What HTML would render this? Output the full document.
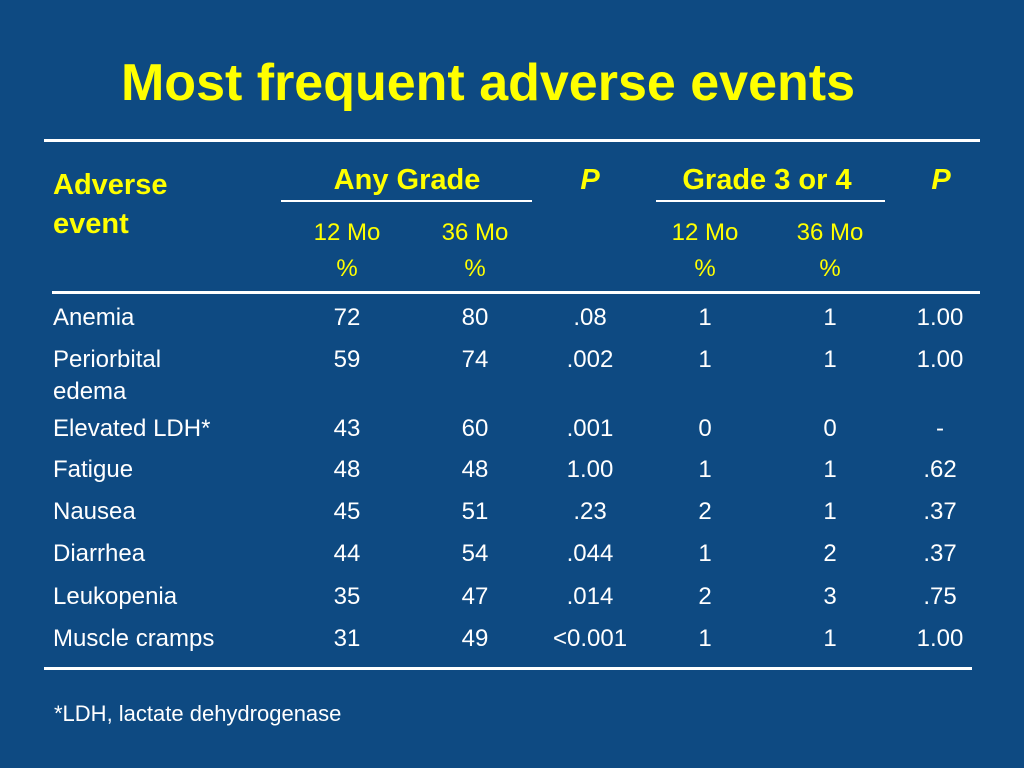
<!DOCTYPE html>
<html><head><meta charset="utf-8"><style>
body{margin:0;width:1024px;height:768px;background:#0e4a82;overflow:hidden;font-family:"Liberation Sans",Arial,sans-serif;position:relative}
.t{position:absolute;white-space:nowrap;line-height:1}
.c{transform:translateX(-50%)}
.y{color:#ffff00}
.w{color:#fff}
.rule{position:absolute;height:3px;background:#fff}
</style></head><body>
<div class="t y c" style="left:488px;top:57px;font-size:52px;font-weight:bold">Most frequent adverse events</div>
<div class="rule" style="left:44px;top:139px;width:936px"></div>
<div class="rule" style="left:52px;top:291px;width:928px"></div>
<div class="rule" style="left:44px;top:667px;width:928px"></div>
<div class="rule" style="left:281px;top:200px;width:251px;height:2px"></div>
<div class="rule" style="left:656px;top:200px;width:229px;height:2px"></div>
<div class="t y" style="left:53px;top:166px;font-size:29px;font-weight:bold;line-height:39px">Adverse<br>event</div>
<div class="t y c" style="left:407px;top:166px;font-size:29px;font-weight:bold">Any Grade</div>
<div class="t y c" style="left:590px;top:166px;font-size:29px;font-weight:bold;font-style:italic">P</div>
<div class="t y c" style="left:767px;top:166px;font-size:29px;font-weight:bold">Grade 3 or 4</div>
<div class="t y c" style="left:941px;top:166px;font-size:29px;font-weight:bold;font-style:italic">P</div>
<div id="sub"></div>
<div id="rows"></div>
<div class="t w" style="left:54px;top:703px;font-size:22px">*LDH, lactate dehydrogenase</div>
<script>
const cols=[347,475,590,705,830,940];
const names=["Anemia","Periorbital\nedema","Elevated LDH*","Fatigue","Nausea","Diarrhea","Leukopenia","Muscle cramps"];
const any12=["72","59","43","48","45","44","35","31"];
const any36=["80","74","60","48","51","54","47","49"];
const p1=[".08",".002",".001","1.00",".23",".044",".014","<0.001"];
const g12=["1","1","0","1","2","1","2","1"];
const g36=["1","1","0","1","1","2","3","1"];
const p2=["1.00","1.00","-",".62",".37",".37",".75","1.00"];
const rowTops=[306,348,417,458,500,542,585,627];
function mk(txt,x,y,cls,name,fs){
 const d=document.createElement('div');
 d.className='t '+cls;
 d.style.left=x+'px';d.style.top=y+'px';d.style.fontSize=(fs||24)+'px';
 d.textContent=txt;
 
 
 document.body.appendChild(d);return d;
}
[[0,"12 Mo"],[1,"36 Mo"],[3,"12 Mo"],[4,"36 Mo"]].forEach(([i,s])=>{
 mk(s,cols[i],221,'y c','subheader-mo',24);
 mk('%',cols[i],257,'y c','subheader-pct',24);
});
const series=[any12,any36,p1,g12,g36,p2];
names.forEach((n,r)=>{
 const parts=n.split('\n');
 parts.forEach((p,k)=>mk(p,53,rowTops[r]+k*32,'w','row-label',24));
 series.forEach((s,ci)=>mk(s[r],cols[ci],rowTops[r],'w c','cell-value',24));
});
</script>
</body></html>
